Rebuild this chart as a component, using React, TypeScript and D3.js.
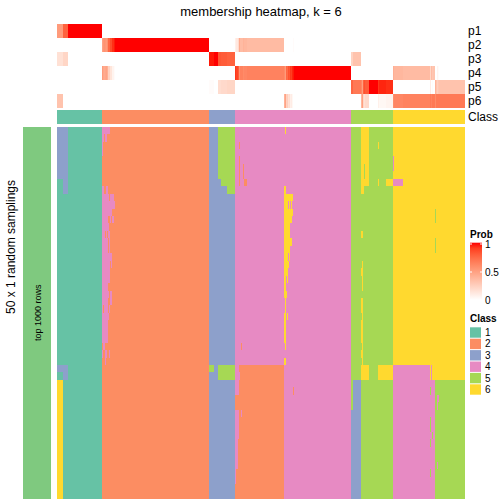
import React from 'react';
import * as d3 from 'd3';

// ---- data ----
const CLASS_IDS = [1, 2, 3, 4, 5, 6];
const CLASS_COLORS = ['#66C2A5', '#FC8D62', '#8DA0CB', '#E78AC3', '#A6D854', '#FFD92F'];
// number of samples in each consensus class (columns, in order)
const CLASS_BLOCK_SIZES = [45, 107, 26, 116, 42, 72];
const N_ROWS = 50; // random samplings
const PROB_LABELS = ['p1', 'p2', 'p3', 'p4', 'p5', 'p6'];
const PROB_TICKS = [0, 0.5, 1];
const TITLE = 'membership heatmap, k = 6';
const ROW_TITLE = '50 x 1 random samplings';
const SPLIT_LABEL = 'top 1000 rows';

// deviations from the consensus class: [colStart, colEnd, rowStart, rowEnd, class] (end exclusive)
const PATCHES: [number, number, number, number, number][] = [
  // class 1 block
  [0, 6, 0, 7, 3], [6, 11, 0, 9, 3], [0, 11, 32, 33, 3], [6, 11, 33, 34, 3], [0, 6, 34, 50, 6],
  // class 2 block (pink streaks)
  [45, 53, 0, 1, 4], [45, 47, 1, 2, 4], [48, 50, 1, 2, 4], [45, 46, 2, 4, 4],
  [45, 47, 8, 9, 4], [49, 51, 8, 9, 4],
  [45, 52, 9, 10, 4], [53, 57, 9, 10, 4],
  [45, 58, 10, 11, 4],
  [45, 55, 11, 12, 4],
  [45, 51, 12, 13, 4], [53, 54, 12, 13, 4], [55, 57, 12, 13, 4],
  [45, 52, 13, 14, 4],
  [45, 48, 14, 15, 4], [49, 50, 14, 15, 4], [51, 53, 14, 15, 4],
  [45, 51, 15, 17, 4], [52, 53, 15, 17, 4],
  [45, 55, 17, 18, 4],
  [45, 53, 18, 19, 4], [54, 55, 18, 19, 4],
  [45, 53, 19, 21, 4],
  [45, 51, 21, 22, 4],
  [45, 52, 22, 23, 4], [53, 55, 22, 23, 4],
  [45, 51, 23, 24, 4], [53, 55, 23, 24, 4],
  [45, 46, 24, 25, 4], [47, 51, 24, 25, 4], [52, 53, 24, 25, 4],
  [45, 52, 25, 26, 4],
  [45, 51, 26, 29, 4],
  [46, 48, 29, 30, 4],
  [45, 46, 30, 31, 4], [48, 50, 30, 31, 4], [52, 53, 30, 31, 4],
  [48, 49, 31, 32, 4],
  // class 3 block
  [161, 178, 0, 7, 5], [164, 178, 7, 8, 5], [170, 178, 8, 9, 5],
  [152, 157, 32, 33, 5], [161, 178, 32, 34, 5],
  // class 4 block
  [182, 183, 2, 3, 2], [182, 183, 4, 8, 2], [186, 187, 5, 7, 2], [187, 190, 7, 8, 2], [184, 185, 29, 30, 2],
  [228, 229, 0, 1, 6],
  [227, 229, 8, 9, 6],
  [227, 236, 9, 10, 6],
  [227, 231, 10, 11, 6], [232, 233, 10, 11, 6], [234, 235, 10, 11, 6],
  [227, 236, 11, 12, 6],
  [227, 235, 12, 13, 6],
  [227, 233, 13, 15, 6],
  [227, 235, 15, 16, 6],
  [227, 233, 16, 17, 6],
  [227, 231, 17, 18, 6], [232, 233, 17, 18, 6],
  [227, 232, 18, 19, 6],
  [227, 231, 19, 20, 6],
  [227, 229, 20, 21, 6], [230, 231, 20, 21, 6],
  [227, 229, 21, 22, 6],
  [227, 230, 22, 23, 6],
  [228, 229, 23, 25, 6],
  [227, 229, 25, 26, 6], [230, 231, 25, 26, 6],
  [227, 229, 26, 29, 6],
  [228, 229, 29, 30, 6],
  [227, 229, 31, 32, 6],
  [178, 227, 32, 50, 2],
  [178, 182, 32, 36, 4], [182, 183, 33, 34, 4], [178, 182, 38, 42, 4], [184, 185, 38, 39, 4],
  [178, 181, 42, 46, 4], [178, 179, 46, 48, 4], [236, 237, 35, 36, 2],
  // class 5 block
  [304, 312, 0, 8, 6], [304, 307, 8, 9, 6], [307, 308, 5, 7, 5],
  [321, 322, 2, 3, 6], [321, 322, 7, 8, 6], [329, 336, 7, 8, 6],
  [304, 306, 14, 15, 6], [305, 306, 18, 22, 6], [304, 306, 19, 20, 6], [304, 306, 23, 25, 6],
  [305, 306, 25, 26, 6], [304, 306, 26, 29, 6], [305, 306, 29, 30, 6], [304, 306, 30, 31, 6],
  [305, 306, 31, 32, 6],
  [304, 312, 32, 34, 6], [321, 336, 32, 34, 6],
  [296, 304, 34, 50, 3], [294, 296, 38, 50, 3],
  // class 6 block
  [336, 346, 7, 8, 4], [336, 337, 4, 6, 4],
  [378, 379, 11, 13, 5], [378, 379, 15, 17, 5],
  [336, 373, 32, 34, 4], [374, 375, 32, 34, 4],
  [336, 378, 34, 50, 4], [378, 408, 34, 50, 5],
  [373, 374, 35, 36, 5], [373, 374, 39, 41, 5], [373, 374, 42, 43, 5], [373, 374, 46, 47, 5], [375, 376, 41, 42, 5],
  [380, 382, 36, 37, 4], [380, 381, 37, 38, 4], [380, 381, 45, 46, 4],
];

type Run = { start: number; end: number; value: number };
function runs(arr: number[]): Run[] {
  const out: Run[] = [];
  let s = 0;
  for (let i = 1; i <= arr.length; i++) {
    if (i === arr.length || arr[i] !== arr[s]) {
      out.push({ start: s, end: i, value: arr[s] });
      s = i;
    }
  }
  return out;
}

export default function App() {
  const nCols = d3.sum(CLASS_BLOCK_SIZES);
  const colClass: number[] = [];
  CLASS_BLOCK_SIZES.forEach((n, i) => {
    for (let j = 0; j < n; j++) colClass.push(CLASS_IDS[i]);
  });
  const grid = d3.range(N_ROWS).map(() => colClass.slice());
  PATCHES.forEach(([c0, c1, r0, r1, k]) => {
    for (let r = r0; r < r1; r++) for (let c = c0; c < c1; c++) grid[r][c] = k;
  });
  const probs = CLASS_IDS.map((k) =>
    d3.range(nCols).map((c) => d3.sum(grid, (row) => (row[c] === k ? 1 : 0)) / N_ROWS)
  );

  const x = d3.scaleLinear().domain([0, nCols]).range([57, 465]);
  const yRow = d3.scaleLinear().domain([0, N_ROWS]).range([126.7, 499]);
  const pY = d3.scaleBand<string>().domain(PROB_LABELS).range([24, 108]);
  const classColor = d3.scaleOrdinal<number, string>().domain(CLASS_IDS).range(CLASS_COLORS);
  const probColor = d3.scaleLinear<string>().domain([0, 1]).range(['#FFFFFF', '#FF0000']).interpolate(d3.interpolateLab);
  const legY = d3.scaleLinear().domain([0, 1]).range([300, 244]);
  const font = '"Liberation Sans", Arial, Helvetica, sans-serif';

  const classRowY = 110;
  const classRowH = 13.7;
  const legX = 470;
  const boxPitch = 11.4;
  const boxTop = 327.3;

  return (
    <svg width={504} height={504} style={{ position: 'absolute', left: 0, top: 0 }} fontFamily={font}>
      <defs>
        <linearGradient id="probGrad" x1="0" y1="1" x2="0" y2="0">
          {d3.range(0, 1.0001, 0.1).map((t) => (
            <stop key={t} offset={`${t * 100}%`} stopColor={probColor(t)} />
          ))}
        </linearGradient>
      </defs>
      <rect width={504} height={504} fill="#fff" />
      <text x={261} y={15.5} fontSize={13} textAnchor="middle">{TITLE}</text>

      {/* probability rows */}
      <g shapeRendering="crispEdges">
        {probs.map((row, i) =>
          runs(row).map((r) => (
            <rect key={`p${i}-${r.start}`} x={x(r.start)} width={x(r.end) - x(r.start)}
              y={pY(PROB_LABELS[i])!} height={pY.bandwidth()} fill={probColor(r.value)} />
          ))
        )}
        {runs(colClass).map((r) => (
          <rect key={`c${r.start}`} x={x(r.start)} width={x(r.end) - x(r.start)}
            y={classRowY} height={classRowH} fill={classColor(r.value)} />
        ))}
        {grid.map((row, ri) =>
          runs(row).map((r) => (
            <rect key={`g${ri}-${r.start}`} x={x(r.start)} width={x(r.end) - x(r.start)}
              y={yRow(ri)} height={yRow(ri + 1) - yRow(ri)} fill={classColor(r.value)} />
          ))
        )}
        <rect x={23} y={yRow(0)} width={28} height={yRow(N_ROWS) - yRow(0)} fill="#7FC97F" />
      </g>

      {PROB_LABELS.map((l) => (
        <text key={l} x={468} y={pY(l)! + pY.bandwidth() / 2} fontSize={12} dominantBaseline="central">{l}</text>
      ))}
      <text x={468} y={classRowY + classRowH / 2} fontSize={12} dominantBaseline="central">Class</text>

      <text transform={`translate(15,247) rotate(-90)`} fontSize={12} textAnchor="middle">{ROW_TITLE}</text>
      <text transform={`translate(37.5,${(yRow(0) + yRow(N_ROWS)) / 2}) rotate(-90)`} fontSize={9}
        textAnchor="middle" dominantBaseline="central">{SPLIT_LABEL}</text>

      {/* legends */}
      <text x={legX} y={234} fontSize={10} fontWeight="bold" dominantBaseline="central">Prob</text>
      <rect x={legX} y={242.7} width={12} height={300 - 242.7} fill="url(#probGrad)" />
      {PROB_TICKS.map((t) => (
        <g key={t}>
          <line x1={legX} x2={legX + 2} y1={legY(t)} y2={legY(t)} stroke="#fff" strokeWidth={1} />
          <line x1={legX + 10} x2={legX + 12} y1={legY(t)} y2={legY(t)} stroke="#fff" strokeWidth={1} />
          <text x={legX + 15} y={legY(t)} fontSize={10} dominantBaseline="central">{String(t)}</text>
        </g>
      ))}
      <text x={legX} y={318} fontSize={10} fontWeight="bold" dominantBaseline="central">Class</text>
      {CLASS_IDS.map((k, i) => (
        <g key={k}>
          <rect x={legX} y={boxTop + i * boxPitch} width={11} height={boxPitch - 1} fill={classColor(k)} />
          <text x={legX + 15} y={boxTop + i * boxPitch + (boxPitch - 1) / 2} fontSize={10} dominantBaseline="central">{k}</text>
        </g>
      ))}
    </svg>
  );
}
